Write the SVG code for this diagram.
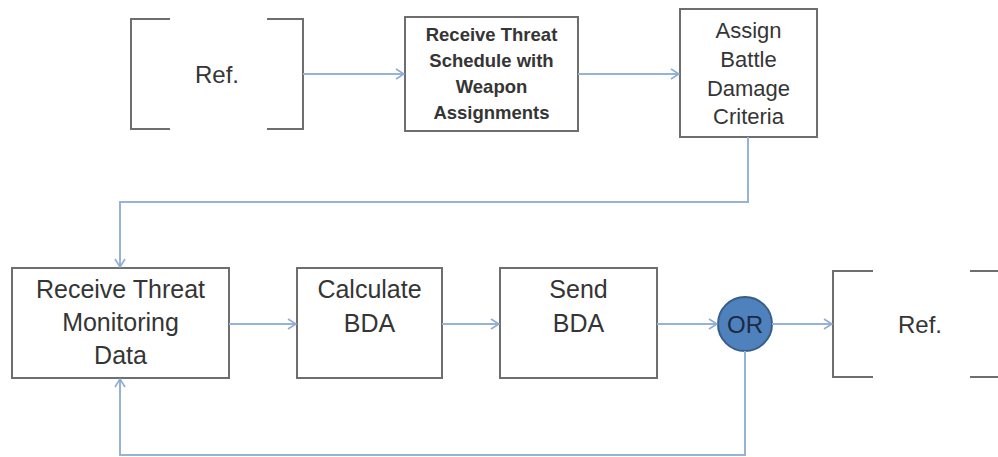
<svg xmlns="http://www.w3.org/2000/svg" width="998" height="457" viewBox="0 0 998 457">
<defs>
<marker id="arr" viewBox="0 0 10 12" refX="9" refY="6" markerWidth="10" markerHeight="12" markerUnits="userSpaceOnUse" orient="auto">
<path d="M1,1 L9,6 L1,11" fill="none" stroke="#8eacd0" stroke-width="1.6"/>
</marker>
<style>
.box{fill:#fff;stroke:#6e6e6e;stroke-width:2}
.br{fill:none;stroke:#6e6e6e;stroke-width:2}
.t{font-family:"Liberation Sans",Arial,sans-serif;fill:#353535;text-anchor:middle}
.b{font-weight:bold;font-size:18.5px}
.r{font-size:22px}
.l{font-size:25px}
.ref{font-size:24px}
.c{fill:none;stroke:#95b3d7;stroke-width:2}
</style>
</defs>
<rect width="998" height="457" fill="#fff"/>
<g id="ref-top">
<path class="br" d="M170,19 H131 V129 H170"/>
<path class="br" d="M267,19 H303 V129 H267"/>
<text class="t ref" x="217" y="83">Ref.</text>
</g>
<g id="receive-schedule">
<rect class="box" x="405" y="17" width="173" height="114"/>
<text class="t b" x="491.5" y="41">Receive Threat</text>
<text class="t b" x="491.5" y="67">Schedule with</text>
<text class="t b" x="491.5" y="93">Weapon</text>
<text class="t b" x="491.5" y="119">Assignments</text>
</g>
<g id="assign-criteria">
<rect class="box" x="680" y="9" width="137" height="128"/>
<text class="t r" x="748.5" y="38">Assign</text>
<text class="t r" x="748.5" y="67">Battle</text>
<text class="t r" x="748.5" y="96">Damage</text>
<text class="t r" x="748.5" y="124">Criteria</text>
</g>
<g id="receive-monitoring">
<rect class="box" x="12" y="268" width="217" height="110"/>
<text class="t l" x="120.5" y="298">Receive Threat</text>
<text class="t l" x="120.5" y="331">Monitoring</text>
<text class="t l" x="120.5" y="364">Data</text>
</g>
<g id="calculate-bda">
<rect class="box" x="297" y="268" width="145" height="110"/>
<text class="t l" x="369.5" y="298">Calculate</text>
<text class="t l" x="369.5" y="332">BDA</text>
</g>
<g id="send-bda">
<rect class="box" x="500" y="268" width="157" height="110"/>
<text class="t l" x="578.5" y="298">Send</text>
<text class="t l" x="578.5" y="332">BDA</text>
</g>
<g id="or">
<circle cx="745" cy="324" r="27" fill="#4f81bd" stroke="#385d8a" stroke-width="2"/>
<text class="t" x="745" y="333" style="fill:#1c2a44;font-size:24px">OR</text>
</g>
<g id="ref-bottom">
<path class="br" d="M873,271 H833 V377 H873"/>
<path class="br" d="M970,271 H998 M970,377 H998"/>
<text class="t ref" x="920" y="333">Ref.</text>
</g>
<g id="connectors">
<path class="c" d="M303,74 H404" marker-end="url(#arr)"/>
<path class="c" d="M578,74 H679" marker-end="url(#arr)"/>
<path class="c" d="M748,137 V202 H120 V267" marker-end="url(#arr)"/>
<path class="c" d="M229,324 H296" marker-end="url(#arr)"/>
<path class="c" d="M442,324 H499" marker-end="url(#arr)"/>
<path class="c" d="M657,324 H717" marker-end="url(#arr)"/>
<path class="c" d="M772,324 H832" marker-end="url(#arr)"/>
<path class="c" d="M745,351 V455 H120 V379" marker-end="url(#arr)"/>
</g>
</svg>
